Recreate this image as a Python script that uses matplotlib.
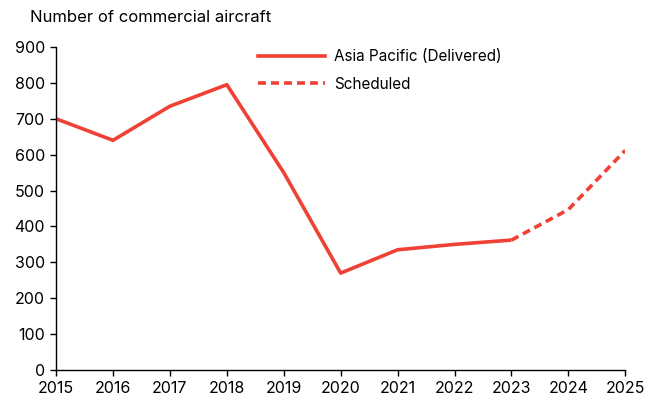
import matplotlib
matplotlib.use("Agg")
import matplotlib.pyplot as plt
from matplotlib.lines import Line2D

plt.rcParams["font.family"] = ["Inter", "DejaVu Sans"]

RED = "#EF4135"

delivered_years = [2015, 2016, 2017, 2018, 2019, 2020, 2021, 2022, 2023]
delivered = [700, 640, 735, 795, 550, 270, 335, 350, 362]
scheduled_years = [2023, 2024, 2025]
scheduled = [362, 447, 612]

fig = plt.figure(figsize=(6.52, 4.0), dpi=100)
ax = fig.add_axes([0.086, 0.075, 0.873, 0.8075])

ax.plot(delivered_years, delivered, color=RED, lw=2.6, solid_capstyle="butt")
ax.plot(scheduled_years, scheduled, color=RED, lw=2.6, ls=(0, (2.2, 1.4)))

ax.set_xlim(2015, 2025)
ax.set_ylim(0, 900)
ax.set_xticks(range(2015, 2026))
ax.set_yticks(range(0, 901, 100))
for side in ("top", "right"):
    ax.spines[side].set_visible(False)
for side in ("left", "bottom"):
    ax.spines[side].set_linewidth(1.0)
ax.tick_params(direction="out", length=4, width=1.0, labelsize=11.5, pad=4)

fig.text(0.046, 0.957, "Number of commercial aircraft", fontsize=12,
         ha="left", va="center")

handles = [
    Line2D([], [], color=RED, lw=2.6),
    Line2D([], [], color=RED, lw=2.6, ls=(0, (2.2, 1.4))),
]
ax.legend(handles, ["Asia Pacific (Delivered)", "Scheduled"],
          loc="upper left", bbox_to_anchor=(0.33, 1.035), frameon=False,
          fontsize=11, handlelength=4.4, handletextpad=0.6,
          labelspacing=0.8)

fig.savefig("out.png", dpi=100)
